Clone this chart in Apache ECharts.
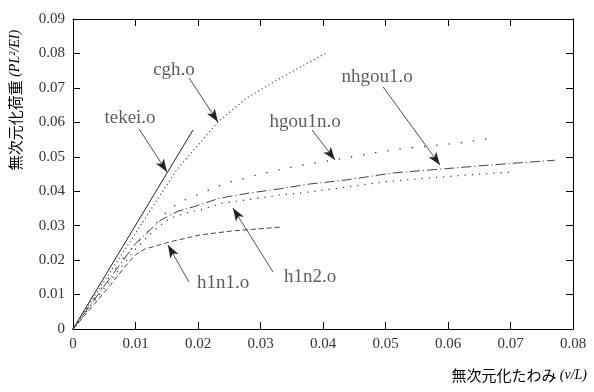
<!DOCTYPE html>
<html>
<head>
<meta charset="utf-8">
<script src="https://cdn.jsdelivr.net/npm/echarts@6/dist/echarts.min.js"></script>
<style>html,body{margin:0;padding:0;background:#fff;}#c{width:594px;height:392px;}</style>
</head>
<body>
<div id="c"></div>
<script>
// ---- data (x: 無次元化たわみ, y: 無次元化荷重) ----
const tekei  = [[0,0],[0.0192,0.0578]];
const cgh    = [[0,0],[0.010,0.0278],[0.0166,0.0462],[0.0232,0.0601],[0.0278,0.0671],[0.034,0.0737],[0.0408,0.0804]];
const hgou1n = [[0,0],[0.004,0.0105],[0.008,0.0205],[0.011,0.0265],[0.013,0.0302],[0.015,0.034],[0.0168,0.0366],[0.019,0.0383],[0.0211,0.0398],[0.0232,0.0415],[0.0253,0.0427],[0.0294,0.0447],[0.0336,0.0465],[0.0376,0.0479],[0.0419,0.0491],[0.048,0.0511],[0.0523,0.0523],[0.0587,0.0534],[0.063,0.0543],[0.0672,0.0555]];
const nhgou1 = [[0,0],[0.005,0.0125],[0.010,0.0248],[0.0123,0.0287],[0.014,0.0316],[0.0168,0.0342],[0.0195,0.0356],[0.0235,0.038],[0.0283,0.0395],[0.0331,0.0407],[0.0379,0.0421],[0.0438,0.0433],[0.0512,0.0453],[0.0587,0.0464],[0.0667,0.0476],[0.0771,0.049]];
const h1n2   = [[0,0],[0.005,0.0118],[0.010,0.0232],[0.0112,0.0255],[0.0134,0.0293],[0.0155,0.0322],[0.0182,0.0337],[0.0208,0.0348],[0.024,0.0366],[0.0286,0.0377],[0.0331,0.0389],[0.0379,0.0398],[0.0438,0.0412],[0.0496,0.0427],[0.0587,0.0441],[0.0651,0.045],[0.0707,0.0456]];
const h1n1   = [[0,0],[0.005,0.0106],[0.009,0.0196],[0.0102,0.0218],[0.0115,0.0232],[0.0155,0.0253],[0.0203,0.0273],[0.0256,0.0285],[0.0334,0.0296]];

// ---- annotations ----
const labelNames = ['cgh.o','tekei.o','hgou1n.o','nhgou1.o','h1n1.o','h1n2.o'];
const labelAt    = [[0.01616,0.0752],[0.00912,0.0613],[0.03712,0.0601],[0.04864,0.0732],[0.0240,0.0134],[0.03792,0.0151]];
const arrowFrom  = [[0.01856,0.0729],[0.01056,0.0581],[0.03824,0.0578],[0.0496,0.0703],[0.01856,0.01365],[0.0320,0.01655]];
const arrowTo    = [[0.0232,0.0601],[0.01504,0.0456],[0.04192,0.0491],[0.05872,0.0476],[0.0152,0.0244],[0.0256,0.0351]];

const serif = "Liberation Serif";
const fmt = v => v === 0 ? '0' : v.toFixed(2);

function lineSeries(data, color, type, width) {
  return { type:'line', data, showSymbol:false, symbol:'none', silent:true,
           lineStyle:{ color, width, type }, z:2 };
}

const chart = echarts.init(document.getElementById('c'), null, {renderer:'canvas'});
const axisCommon = {
  min:0, interval:0.01,
  axisLine:{ show:true, onZero:false, lineStyle:{ color:'#000', width:1 } },
  axisTick:{ show:true, inside:true, length:7, lineStyle:{ color:'#000', width:1 } },
  splitLine:{ show:false },
};
const richTitle = {
  a:{ fontFamily:'Noto Sans CJK JP', fontSize:15, color:'#333' },
  b:{ fontFamily:serif, fontStyle:'italic', fontSize:14, color:'#333' }
};
chart.setOption({
  animation:false,
  backgroundColor:'#fff',
  grid:{ left:73, right:21, top:19, bottom:63, containLabel:false },
  xAxis:[
    Object.assign({}, axisCommon, { type:'value', max:0.08, position:'bottom',
      axisLabel:{ show:true, formatter:fmt, margin:8, color:'#333', fontFamily:serif, fontSize:15 } }),
    Object.assign({}, axisCommon, { type:'value', max:0.08, position:'top', axisLabel:{ show:false } })
  ],
  yAxis:[
    Object.assign({}, axisCommon, { type:'value', max:0.09, position:'left',
      axisLabel:{ show:true, formatter:fmt, margin:8, color:'#333', fontFamily:serif, fontSize:15 } }),
    Object.assign({}, axisCommon, { type:'value', max:0.09, position:'right', axisLabel:{ show:false } })
  ],
  graphic:[
    { type:'text', x:15, y:100, rotation:Math.PI/2,
      style:{ text:'{a|無次元化荷重} {b|(PL²/EI)}', rich:richTitle, align:'center', verticalAlign:'middle' } },
    { type:'text', x:587, y:375,
      style:{ text:'{a|無次元化たわみ} {b|(v/L)}', rich:richTitle, align:'right', verticalAlign:'middle' } }
  ],
  series:[
    lineSeries(tekei, '#222', 'solid', 1),
    lineSeries(cgh, '#333', [1,3], 1.2),
    lineSeries(hgou1n, '#333', [1.3,11], 1.3),
    lineSeries(nhgou1, '#444', [10,3,1.2,3], 1),
    lineSeries(h1n2, '#333', [1.2,6], 1.2),
    lineSeries(h1n1, '#444', [5,3], 1),
    {
      type:'scatter', silent:true, symbolSize:0, z:5,
      data: labelNames.map((n,i)=>[labelAt[i][0], labelAt[i][1], n]),
      label:{ show:true, position:'inside', formatter:p=>p.value[2], color:'#333', fontFamily:serif, fontSize:19 },
      markLine:{
        silent:true, animation:false,
        symbol:['none','arrow'], symbolSize:[7,13],
        label:{ show:false },
        lineStyle:{ color:'#222', width:0.8, type:'solid' },
        data: arrowFrom.map((f,i)=>[{ coord:f }, { coord:arrowTo[i] }])
      }
    }
  ]
});
</script>
</body>
</html>
